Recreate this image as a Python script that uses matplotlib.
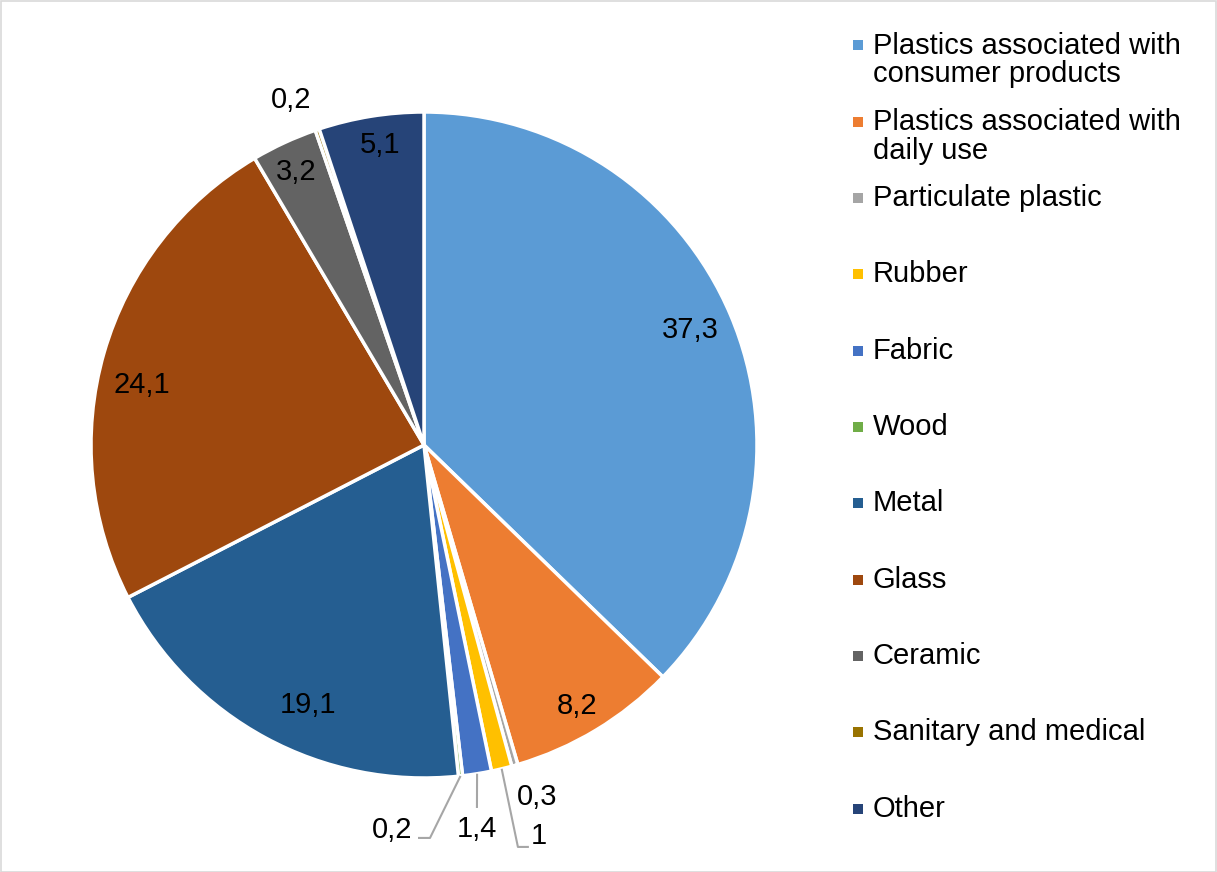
import matplotlib
matplotlib.use("Agg")
import matplotlib.pyplot as plt
import numpy as np
from matplotlib.patches import Rectangle

plt.rcParams['font.family'] = ['Liberation Sans', 'DejaVu Sans']

categories = [
    "Plastics associated with\nconsumer products",
    "Plastics associated with\ndaily use",
    "Particulate plastic",
    "Rubber",
    "Fabric",
    "Wood",
    "Metal",
    "Glass",
    "Ceramic",
    "Sanitary and medical",
    "Other",
]
values = [37.3, 8.2, 0.3, 1.0, 1.4, 0.2, 19.1, 24.1, 3.2, 0.2, 5.1]
value_labels = ["37,3", "8,2", "0,3", "1", "1,4", "0,2", "19,1", "24,1", "3,2", "0,2", "5,1"]

colors = ["#5B9BD5", "#ED7D31", "#A5A5A5", "#FFC000", "#4472C4", "#70AD47",
          "#255E91", "#9E480E", "#636363", "#997300", "#264478"]

# label anchor positions (pie radius = 1)
label_pos = [(0.799, 0.345), (0.459, -0.784), (0.339, -1.057), (0.345, -1.174),
             (0.159, -1.153), (-0.096, -1.156), (-0.348, -0.781), (-0.847, 0.180),
             (-0.384, 0.820), (-0.399, 1.036), (-0.132, 0.901)]
# leader line bends for the small slices: index -> intermediate points
leaders = {
    3: [(0.282, -1.207), (0.315, -1.207)],
    4: [(0.159, -1.090)],
    5: [(0.018, -1.180), (-0.018, -1.180)],
}

W, H = 1217, 872
fig = plt.figure(figsize=(W / 100, H / 100), dpi=100)

R = 333.0
cx, cy = 424.0, 445.0
lim = 1.3
side = 2 * lim * R
ax = fig.add_axes([(cx - side / 2) / W, ((H - cy) - side / 2) / H, side / W, side / H])
ax.axis('off')

wedges, _ = ax.pie(values, colors=colors, startangle=90, counterclock=False, radius=1,
                   wedgeprops=dict(edgecolor='white', linewidth=2.5))
ax.set_xlim(-lim, lim)
ax.set_ylim(-lim, lim)
ax.set_aspect('equal')

for i, w in enumerate(wedges):
    lx, ly = label_pos[i]
    ax.text(lx, ly, value_labels[i], ha='center', va='center', fontsize=21, color='black')
    if i in leaders:
        mid = np.deg2rad((w.theta1 + w.theta2) / 2)
        pts = [(np.cos(mid) * 1.0, np.sin(mid) * 1.0)] + leaders[i]
        xs, ys = zip(*pts)
        ax.plot(xs, ys, color='#A6A6A6', lw=1.5, solid_capstyle='butt')

# legend
y0 = 45.5
step = 76.3
line_h = 29.0
for i, (lab, col) in enumerate(zip(categories, colors)):
    y = y0 + i * step
    fig.patches.append(Rectangle((853 / W, (H - y - 5) / H), 10 / W, 10 / H,
                                 transform=fig.transFigure, facecolor=col, edgecolor='none'))
    for k, line in enumerate(lab.split("\n")):
        fig.text(873 / W, (H - y - k * line_h) / H, line, ha='left', va='center',
                 fontsize=21, color='black')

# chart frame
fig.patches.append(Rectangle((0.5 / W, 0.5 / H), (W - 1.5) / W, (H - 1.5) / H,
                             transform=fig.transFigure, facecolor='none',
                             edgecolor='#D9D9D9', linewidth=1.2))

fig.savefig("out.png", dpi=100, facecolor='white')
